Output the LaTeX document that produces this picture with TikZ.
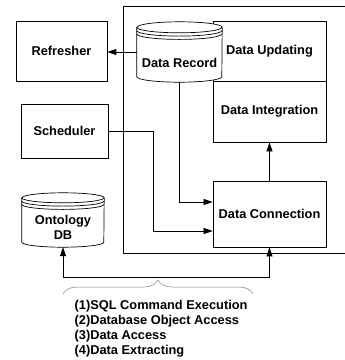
\documentclass[tikz,border=0pt]{standalone}
\usepackage{fontspec}
\setmainfont{Liberation Sans}
\usetikzlibrary{arrows.meta,calc,decorations.pathreplacing}

\tikzset{
  box/.style={draw, line width=0.7pt, inner sep=0pt, align=center,
    font=\fontsize{12.8}{15}\selectfont\bfseries},
  drumbox/.style={inner sep=0pt},
  drumline/.style={line width=0.7pt, fill=white},
  lbl/.style={inner sep=0pt, align=center,
    font=\fontsize{12.8}{15}\selectfont\bfseries},
  arr/.style={line width=0.7pt, -{Triangle[length=9pt,width=6pt]}},
}

% drum outline round a node: node, x radius, y radius
\newcommand{\drumshape}[3]{%
  \draw[drumline] ($(#1.north west)+(0,#3)$) -- ($(#1.south west)+(0,-#3)$)
    arc[start angle=180,end angle=360,x radius=#2pt,y radius=#3pt]
    -- ($(#1.north east)+(0,#3)$)
    arc[start angle=0,end angle=180,x radius=#2pt,y radius=#3pt] -- cycle;
  \foreach \dd in {0,3.3,6.6}
    \draw[line width=0.7pt] ($(#1.north west)+(0,#3+\dd)$)
      arc[start angle=180,end angle=360,x radius=#2pt,y radius=#3pt];
}

\begin{document}
\begin{tikzpicture}[x=1pt,y=-1pt]
    \useasboundingbox (0,0) rectangle (345,360);
    %FRAME
    \draw[line width=0.7pt] (345,6) -| (123,253) -- (345,253);
    %BOXES
    \node[box, minimum width=91pt, minimum height=60pt] (refresher) at (61.5,51) {Refresher};
    \node[box, minimum width=87pt, minimum height=54pt] (scheduler) at (64.5,131) {Scheduler};
    \node[box, minimum width=113pt, minimum height=60pt] (update) at (269.5,51) {Data Updating};
    \node[box, minimum width=113pt, minimum height=61pt] (integ) at (269.5,111.5) {Data Integration};
    \node[box, minimum width=113pt, minimum height=66pt] (conn) at (269.5,214) {Data Connection};
    %DRUMS
    \node[drumbox, minimum width=85pt, minimum height=60pt] (record) at (179.5,52) {};
    \drumshape{record}{42.5}{5.5}
    \node[lbl] (recordtxt) at (179.5,63) {Data Record};
    \node[drumbox, minimum width=82pt, minimum height=54pt] (onto) at (63,220) {};
    \drumshape{onto}{41}{5}
    \node[lbl] (ontotxt) at (63,227.5) {Ontology\\DB};
    %ARROWS
    \draw[arr] (record.west) -- (record.west -| refresher.east);
    \draw[arr] (record.south) |- ([yshift=12pt]conn.west);
    \draw[arr] (scheduler.east) -- ++(45,0) |- ([yshift=-17pt]conn.west);
    \draw[arr] (conn.north) -- (integ.south);
    \coordinate (bus) at (158,277);
    \draw[arr] (bus) -| (onto.south);
    \draw[arr] (bus) -| (conn.south);
    %BRACE
    \draw[gray, line width=0.5pt, decorate, decoration={brace, amplitude=14pt}] (63,294) -- (253,294);
    \node[lbl, align=left, anchor=north west] (ops) at (74.5,300.5)
      {(1)SQL Command Execution\\(2)Database Object Access\\(3)Data Access\\(4)Data Extracting};
\end{tikzpicture}
\end{document}
